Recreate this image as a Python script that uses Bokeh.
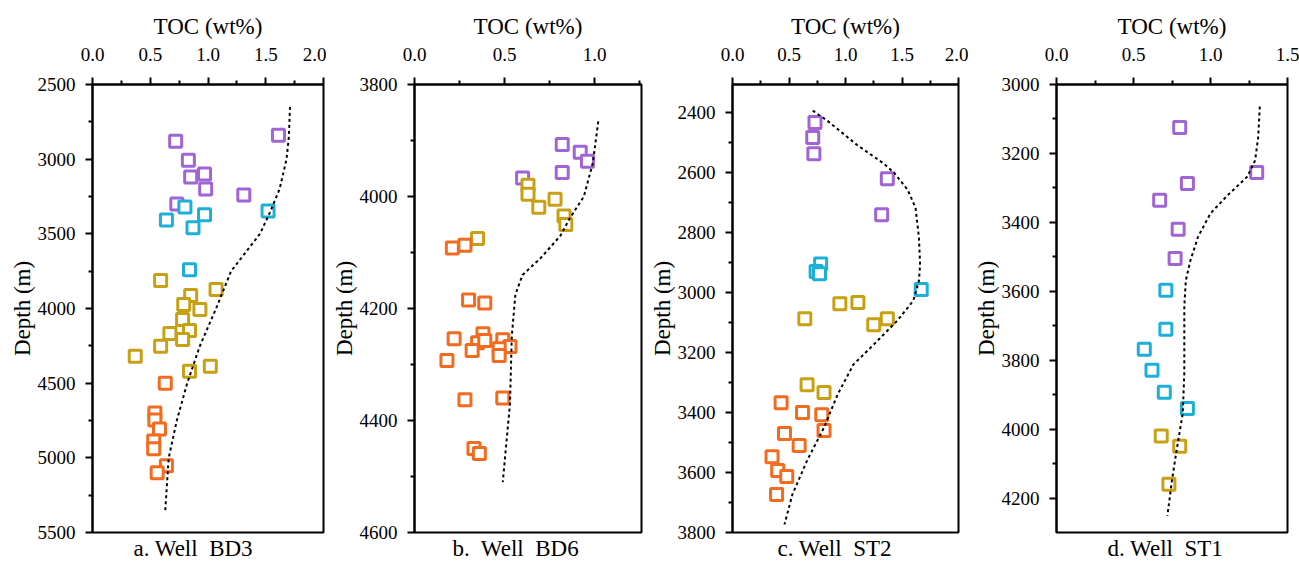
from bokeh.plotting import figure
from bokeh.models import Range1d, FixedTicker, PrintfTickFormatter, Title
from bokeh.layouts import row
from bokeh.embed import file_html
from bokeh.resources import INLINE

# ---------------- data ----------------
# Well BD3
a_purple_toc = [0.72, 1.61, 0.83, 0.97, 0.85, 0.98, 1.31, 0.73]
a_purple_dep = [2880, 2840, 3007, 3100, 3120, 3200, 3240, 3300]
a_cyan_toc = [0.80, 0.64, 0.97, 0.87, 1.52, 0.84]
a_cyan_dep = [3320, 3407, 3373, 3460, 3347, 3740]
a_olive_toc = [0.59, 0.85, 1.07, 0.79, 0.93, 0.78, 0.84, 0.67, 0.78, 0.59, 0.37, 0.84, 1.02]
a_olive_dep = [3813, 3913, 3873, 3973, 4007, 4073, 4147, 4167, 4207, 4253, 4320, 4420, 4387]
a_orange_toc = [0.63, 0.54, 0.54, 0.58, 0.53, 0.53, 0.64, 0.56]
a_orange_dep = [4500, 4700, 4747, 4807, 4887, 4940, 5053, 5100]
a_curve_toc = [1.71, 1.70, 1.68, 1.62, 1.54, 1.45, 1.20, 1.07, 0.93, 0.82, 0.73, 0.66, 0.63]
a_curve_dep = [2650, 2850, 3000, 3200, 3350, 3500, 3750, 4000, 4250, 4500, 4750, 5000, 5350]

# Well BD6
b_purple_toc = [0.82, 0.92, 0.96, 0.82, 0.60]
b_purple_dep = [3907, 3921, 3937, 3957, 3967]
b_olive_toc = [0.63, 0.63, 0.69, 0.78, 0.83, 0.84, 0.35]
b_olive_dep = [3980, 3996, 4019, 4005, 4035, 4050, 4075]
b_orange_toc = [0.21, 0.28, 0.30, 0.39, 0.22, 0.38, 0.35, 0.39, 0.32, 0.49, 0.53, 0.47, 0.47,
                0.18, 0.28, 0.49, 0.33, 0.36]
b_orange_dep = [4092, 4087, 4185, 4190, 4254, 4245, 4261, 4257, 4275, 4256, 4268, 4272, 4284,
                4293, 4363, 4360, 4450, 4459]
b_curve_toc = [1.02, 0.99, 0.94, 0.86, 0.81, 0.70, 0.60, 0.56, 0.54, 0.53, 0.49]
b_curve_dep = [3866, 3940, 4000, 4040, 4070, 4110, 4140, 4175, 4250, 4370, 4510]

# Well ST2
c_purple_toc = [0.73, 0.71, 0.72, 1.37, 1.32]
c_purple_dep = [2433, 2483, 2537, 2620, 2740]
c_cyan_toc = [0.78, 0.74, 0.77, 1.67]
c_cyan_dep = [2905, 2930, 2937, 2990]
c_olive_toc = [0.95, 1.11, 0.64, 1.25, 1.37, 0.66, 0.81]
c_olive_dep = [3037, 3033, 3087, 3107, 3087, 3307, 3333]
c_orange_toc = [0.43, 0.62, 0.79, 0.81, 0.46, 0.59, 0.35, 0.40, 0.48, 0.39]
c_orange_dep = [3367, 3400, 3407, 3460, 3470, 3510, 3547, 3593, 3613, 3673]
c_curve_toc = [0.71, 0.84, 1.10, 1.34, 1.43, 1.55, 1.62, 1.65, 1.66, 1.65, 1.60, 1.46, 1.25,
               1.07, 0.93, 0.81, 0.66, 0.53, 0.46]
c_curve_dep = [2393, 2427, 2507, 2570, 2600, 2657, 2717, 2817, 2907, 2960, 3027, 3093, 3173,
               3240, 3340, 3450, 3560, 3673, 3773]

# Well ST1
d_purple_toc = [0.80, 1.30, 0.85, 0.67, 0.79, 0.77]
d_purple_dep = [3125, 3255, 3287, 3336, 3420, 3505]
d_cyan_toc = [0.71, 0.71, 0.57, 0.62, 0.70, 0.85]
d_cyan_dep = [3597, 3710, 3768, 3829, 3893, 3940]
d_olive_toc = [0.68, 0.80, 0.73]
d_olive_dep = [4020, 4050, 4160]
d_curve_toc = [1.32, 1.31, 1.29, 1.24, 1.11, 1.00, 0.92, 0.87, 0.84, 0.83, 0.83, 0.82, 0.78,
               0.75, 0.72]
d_curve_dep = [3064, 3151, 3220, 3267, 3322, 3374, 3441, 3510, 3568, 3643, 3837, 3954, 4061,
               4148, 4252]

NB = "\u00a0"
captions = ["a. Well" + NB + " BD3", "b." + NB + " Well" + NB + " BD6",
            "c. Well" + NB + " ST2", "d. Well" + NB + " ST1"]
x_title = "TOC (wt%)"
y_title = "Depth (m)"

PURPLE = "#a064d4"
CYAN = "#1cb0d8"
OLIVE = "#c8a014"
ORANGE = "#f26b1f"
FONT = "Liberation Serif"


def make_panel(width, left, right, xr, yr, xmaj, xmin, ymaj, ymin, series, curve,
               caption, cap_offset):
    p = figure(width=width, height=561, output_backend="svg", toolbar_location=None,
               x_axis_location="above", x_range=Range1d(*xr), y_range=Range1d(yr[1], yr[0]),
               min_border_left=left, min_border_right=right,
               min_border_top=84, min_border_bottom=29)
    p.grid.visible = False
    p.outline_line_color = "black"
    p.outline_line_width = 2
    p.background_fill_color = "white"
    p.border_fill_color = "white"

    xa = p.xaxis[0]
    xa.ticker = FixedTicker(ticks=xmaj, minor_ticks=xmin)
    xa.formatter = PrintfTickFormatter(format="%.1f")
    ya = p.yaxis[0]
    ya.ticker = FixedTicker(ticks=ymaj, minor_ticks=ymin)
    for ax in (xa, ya):
        ax.axis_line_width = 2
        ax.axis_line_color = "black"
        ax.major_tick_line_width = 2
        ax.minor_tick_line_width = 2
        ax.major_tick_out = 7
        ax.major_tick_in = 0
        ax.minor_tick_out = 4
        ax.minor_tick_in = 0
        ax.major_label_text_font = FONT
        ax.major_label_text_font_size = "19px"
        ax.major_label_text_color = "black"
        ax.axis_label_text_font = FONT
        ax.axis_label_text_font_size = "23px"
        ax.axis_label_text_font_style = "normal"
        ax.axis_label_text_color = "black"
    xa.axis_label = x_title
    xa.major_label_standoff = 17
    xa.axis_label_standoff = 6
    ya.axis_label = y_title
    ya.major_label_standoff = 10
    ya.axis_label_standoff = 0

    for (xs, ys, col) in series:
        p.scatter(xs, ys, marker="square", size=12, fill_color="white",
                  line_color=col, line_width=3)
    p.line(curve[0], curve[1], line_color="black", line_width=2, line_dash="3 3")

    t = Title(text=caption, align="left", text_font=FONT, text_font_size="23px",
              text_font_style="normal", text_color="black", standoff=2, offset=cap_offset)
    p.add_layout(t, "below")
    return p


pa = make_panel(326, 92, 3, (0, 2.0), (2500, 5500),
                [0, 0.5, 1.0, 1.5, 2.0], [0.25, 0.75, 1.25, 1.75],
                [2500, 3000, 3500, 4000, 4500, 5000, 5500], [2750, 3250, 3750, 4250, 4750, 5250],
                [(a_purple_toc, a_purple_dep, PURPLE), (a_cyan_toc, a_cyan_dep, CYAN),
                 (a_olive_toc, a_olive_dep, OLIVE), (a_orange_toc, a_orange_dep, ORANGE)],
                (a_curve_toc, a_curve_dep), captions[0], 41)
pb = make_panel(318, 88, 3, (0, 1.26), (3800, 4600),
                [0, 0.5, 1.0], [0.25, 0.75, 1.25],
                [3800, 4000, 4200, 4400, 4600], [3900, 4100, 4300, 4500],
                [(b_purple_toc, b_purple_dep, PURPLE), (b_olive_toc, b_olive_dep, OLIVE),
                 (b_orange_toc, b_orange_dep, ORANGE)],
                (b_curve_toc, b_curve_dep), captions[1], 38)
pc = make_panel(324, 88, 10, (0, 2.0), (2306, 3800),
                [0, 0.5, 1.0, 1.5, 2.0], [0.25, 0.75, 1.25, 1.75],
                [2400, 2600, 2800, 3000, 3200, 3400, 3600, 3800],
                [2500, 2700, 2900, 3100, 3300, 3500, 3700],
                [(c_purple_toc, c_purple_dep, PURPLE), (c_cyan_toc, c_cyan_dep, CYAN),
                 (c_olive_toc, c_olive_dep, OLIVE), (c_orange_toc, c_orange_dep, ORANGE)],
                (c_curve_toc, c_curve_dep), captions[2], 45)
pd_ = make_panel(331, 88, 12, (0, 1.5), (3000, 4300),
                 [0, 0.5, 1.0, 1.5], [0.25, 0.75, 1.25],
                 [3000, 3200, 3400, 3600, 3800, 4000, 4200], [3100, 3300, 3500, 3700, 3900, 4100],
                 [(d_purple_toc, d_purple_dep, PURPLE), (d_cyan_toc, d_cyan_dep, CYAN),
                  (d_olive_toc, d_olive_dep, OLIVE)],
                 (d_curve_toc, d_curve_dep), captions[3], 51)

layout = row(pa, pb, pc, pd_, spacing=0)
open("out.html", "w").write(file_html(layout, INLINE))
